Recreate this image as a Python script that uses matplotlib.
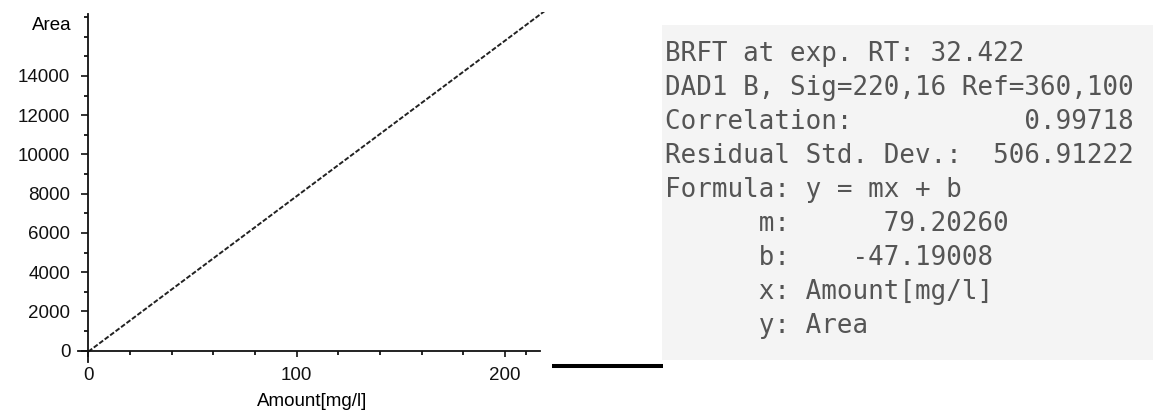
import matplotlib
matplotlib.use('Agg')
import matplotlib.pyplot as plt
from matplotlib.patches import Rectangle
from matplotlib.lines import Line2D
from matplotlib.ticker import MultipleLocator, FixedLocator

# calibration line (end points)
amount = [0, 219.2]
area = [-47, 17314]

x_major = [0, 100, 200]
x_minor = [20, 40, 60, 80, 120, 140, 160, 180, 210]
y_major = [0, 2000, 4000, 6000, 8000, 10000, 12000, 14000]

report_lines = [
    "BRFT at exp. RT: 32.422",
    "DAD1 B, Sig=220,16 Ref=360,100",
    "Correlation:           0.99718",
    "Residual Std. Dev.:  506.91222",
    "Formula: y = mx + b",
    "      m:      79.20260",
    "      b:    -47.19008",
    "      x: Amount[mg/l]",
    "      y: Area",
]

W, H = 1153, 412
fig = plt.figure(figsize=(W / 100, H / 100), dpi=100)
fig.patch.set_facecolor('white')

# left: calibration plot
ax = fig.add_axes([77.9 / W, 50.3 / H, 467.7 / W, 349.6 / H])
ax.set_facecolor('white')
ax.plot(amount, area, color='#222222', lw=1.4, linestyle=(0, (2.5, 1)))

ax.set_xlim(-5, 219.5)
ax.set_ylim(-560, 17250)
for s in ['top', 'right']:
    ax.spines[s].set_visible(False)
ax.spines['left'].set_position(('data', 0))
ax.spines['bottom'].set_position(('data', 0))
ax.spines['left'].set_bounds(-560, 17130)
ax.spines['bottom'].set_bounds(-5, 217)
for s in ['left', 'bottom']:
    ax.spines[s].set_linewidth(1.3)
    ax.spines[s].set_color('#111111')

ax.xaxis.set_major_locator(FixedLocator(x_major))
ax.xaxis.set_minor_locator(FixedLocator(x_minor))
ax.yaxis.set_major_locator(FixedLocator(y_major))
ax.yaxis.set_minor_locator(MultipleLocator(1000))

tick_font = dict(family='Liberation Sans', size=13.5)
ax.set_xticklabels([str(v) for v in x_major], fontdict=tick_font)
ax.set_yticklabels([str(v) for v in y_major], fontdict=tick_font)
ax.tick_params(axis='x', which='major', direction='out', length=4, width=1.2, pad=8, colors='#111111')
ax.tick_params(axis='x', which='minor', direction='out', length=3, width=1.2)
ax.tick_params(axis='y', which='major', direction='out', length=5, width=1.2, pad=8, colors='#111111')
ax.tick_params(axis='y', which='minor', direction='out', length=3, width=1.2)

ax.set_xlabel('Amount[mg/l]', fontdict=tick_font, labelpad=6)
ax.set_ylabel('Area', fontdict=tick_font, rotation=0, ha='right', va='center')
ax.yaxis.set_label_coords(-0.0133, 0.963)

# stray black bar between the two panels
fig.add_artist(Line2D([552 / W, 663 / W], [(H - 366) / H] * 2, color='black', lw=2.9,
                      solid_capstyle='butt'))

# right: report box
fig.patches.append(Rectangle((661.7 / W, (H - 360) / H), (W - 661.7) / W, 335 / H,
                             transform=fig.transFigure, facecolor='#f4f4f4',
                             edgecolor='none', zorder=0))
for i, line in enumerate(report_lines):
    base = 61 + 34 * i
    fig.text(665 / W, (H - base) / H, line, family='DejaVu Sans Mono', size=18.6,
             color='#555555', ha='left', va='baseline')

fig.savefig('out.png', dpi=100)
